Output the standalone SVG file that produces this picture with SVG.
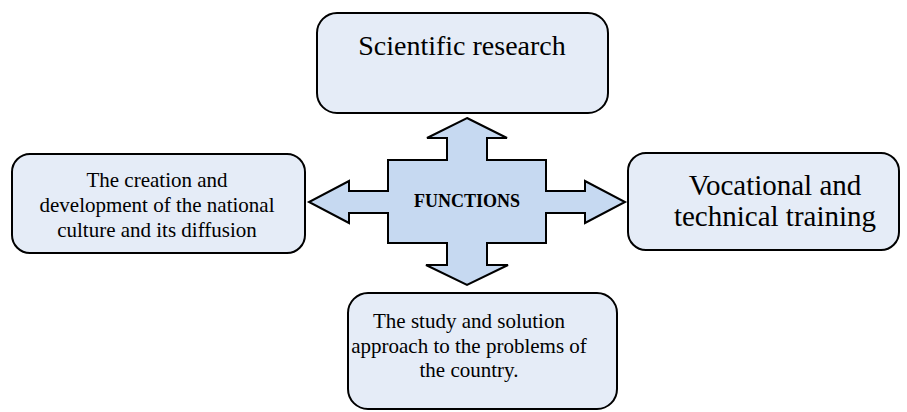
<svg xmlns="http://www.w3.org/2000/svg" width="907" height="412" viewBox="0 0 907 412">
<style>
.box{fill:#e5ecf7;stroke:#000;stroke-width:2}
.t{font-family:"Liberation Serif","Times New Roman",serif;fill:#000;text-anchor:middle}
.cross{fill:#c6d9f1;stroke:#000;stroke-width:2;stroke-linejoin:miter}
</style>
<rect width="907" height="412" fill="#fff"/>
<g id="connectors">
<path id="cross" class="cross" d="M467,118 L507,138 L487,138 L487,160 L546,160 L546,191 L585,191 L585,181 L625,202 L585,223 L585,213 L546,213 L546,243 L487,243 L487,265 L508,265 L467,285 L426,265 L447,265 L447,243 L388,243 L388,213 L349,213 L349,223 L309,202 L349,181 L349,191 L388,191 L388,160 L447,160 L447,138 L427,138 Z"/>
<text class="t" x="467" y="207" font-size="18" font-weight="bold">FUNCTIONS</text>
</g>
<g id="n_top">
<rect class="box" x="317" y="13" width="291" height="100" rx="20"/>
<text class="t" x="462" y="55" font-size="28">Scientific research</text>
</g>
<g id="n_left">
<rect class="box" x="12" y="154" width="293" height="99" rx="18"/>
<text class="t" font-size="21"><tspan x="157" y="187">The creation and</tspan><tspan x="157" y="212">development of the national</tspan><tspan x="157" y="237">culture and its diffusion</tspan></text>
</g>
<g id="n_right">
<rect class="box" x="628" y="153" width="271" height="97" rx="18"/>
<text class="t" font-size="29"><tspan x="775" y="195">Vocational and</tspan><tspan x="775" y="226">technical training</tspan></text>
</g>
<g id="n_bottom">
<rect class="box" x="348" y="293" width="269" height="116" rx="20"/>
<text class="t" font-size="21"><tspan x="469" y="328">The study and solution</tspan><tspan x="469" y="353">approach to the problems of</tspan><tspan x="469" y="377">the country.</tspan></text>
</g>
</svg>
